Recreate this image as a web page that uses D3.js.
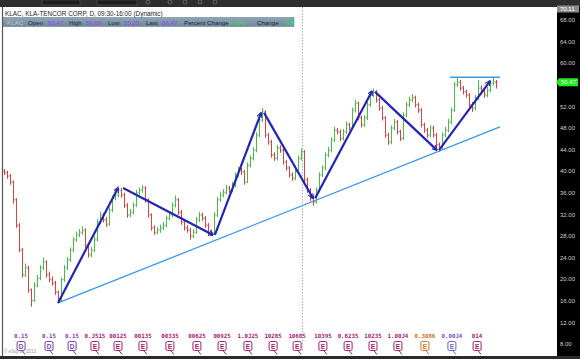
<!DOCTYPE html>
<html><head><meta charset="utf-8">
<script src="https://cdn.jsdelivr.net/npm/d3@7"></script>
<style>html,body{margin:0;padding:0;background:#fff;overflow:hidden}svg{display:block}</style>
</head><body><svg id="c" width="580" height="359"></svg>
<script>
const closes = [39.7,39.1,38.0,34.7,30.0,25.4,20.8,22.1,18.0,16.1,
18.9,20.2,22.1,23.2,20.8,19.9,19.3,17.6,16.1,19.9,
22.1,23.6,25.4,27.3,28.2,28.7,29.1,26.3,24.5,25.4,
27.3,30.6,31.9,31.0,30.2,32.8,35.0,35.6,36.5,35.6,
33.7,31.9,32.4,33.7,36.0,36.5,36.9,34.7,31.9,29.5,
28.7,29.1,29.5,30.0,31.3,31.9,33.7,34.7,32.4,30.6,
29.5,29.1,28.0,28.7,31.0,31.9,31.3,30.0,28.7,28.6,
31.9,34.7,35.6,36.1,36.9,36.5,37.4,39.3,40.2,39.9,
38.0,41.1,42.4,43.9,46.7,49.5,51.0,46.7,45.4,43.0,
42.4,44.3,43.9,41.7,40.6,39.3,38.7,39.9,42.4,43.6,
38.4,36.5,35.0,34.3,36.5,39.3,40.6,43.0,43.9,45.8,
47.6,47.3,46.1,47.3,48.6,48.0,51.3,52.6,49.9,48.6,
49.9,52.3,54.1,54.7,53.2,51.7,49.9,46.7,45.4,48.0,
49.1,47.3,46.1,50.4,52.3,53.2,53.6,52.3,51.3,48.6,
47.6,46.7,48.0,46.7,44.9,44.3,46.7,47.6,49.1,51.3,
56.0,56.5,55.4,54.7,54.1,52.3,51.7,53.6,55.4,54.7,
54.1,55.0,56.3,56.5,56.47];
const highs = [40.4,40.1,39.5,38.3,35.0,30.4,25.8,22.9,22.5,18.3,
19.4,20.8,22.6,24.0,23.5,21.4,20.5,19.7,17.9,20.3,
22.6,24.1,25.9,27.8,28.8,29.3,29.8,29.4,26.7,26.0,
27.9,31.1,32.5,32.3,31.5,33.3,35.5,36.2,37.3,36.9,
36.0,34.1,33.0,34.2,36.5,37.0,37.4,37.2,35.0,32.2,
30.0,29.7,30.1,30.6,31.8,32.5,34.2,35.5,35.0,32.8,
31.0,30.0,29.5,29.2,31.5,32.5,32.3,31.7,30.4,29.2,
32.4,35.2,36.2,36.7,37.5,37.3,38.0,39.8,40.8,40.6,
40.2,41.6,42.9,44.4,47.2,50.0,51.7,51.3,47.1,45.8,
43.5,44.8,44.8,44.2,42.1,41.0,39.8,40.4,42.9,44.2,
43.9,38.8,36.9,35.5,37.0,39.8,41.1,43.5,44.5,46.3,
48.2,48.0,47.7,47.8,49.2,49.0,51.8,53.2,52.9,50.3,
50.4,52.8,54.6,55.3,55.0,53.6,52.1,50.2,47.1,48.5,
49.7,49.5,47.7,50.9,52.8,53.8,54.3,54.0,52.7,51.7,
49.0,48.0,48.5,48.4,47.1,45.3,47.2,48.2,49.7,51.8,
56.5,57.4,56.9,55.8,55.1,54.5,52.8,54.1,56.9,55.9,
55.2,55.6,56.9,57.3,56.9];
const lows = [39.3,38.6,37.5,34.0,29.5,25.0,20.3,20.4,17.5,14.9,
15.8,18.5,19.8,21.7,20.3,19.4,18.8,17.1,15.6,15.9,
19.5,21.7,23.2,25.0,26.9,27.8,28.2,25.8,24.0,24.1,
25.0,27.0,30.2,30.5,29.7,29.9,32.4,34.6,35.2,35.1,
33.2,31.4,31.5,32.0,33.4,35.6,36.0,34.2,31.4,29.0,
28.2,28.3,28.6,29.1,29.6,30.9,31.5,33.3,31.9,30.1,
29.0,28.6,27.3,27.6,28.4,30.6,30.8,29.5,28.2,28.0,
28.3,31.5,34.3,35.2,35.7,36.0,36.1,37.0,38.9,39.3,
37.5,37.8,40.7,42.0,43.5,46.3,49.1,46.2,44.9,42.5,
41.9,42.0,43.4,41.2,40.1,38.8,38.2,38.3,39.5,42.0,
37.9,36.0,34.5,33.6,34.0,36.1,38.9,40.2,42.6,43.5,
45.4,46.8,45.6,45.7,46.9,47.5,47.7,50.9,49.4,48.1,
48.2,49.5,51.9,53.7,52.7,51.2,49.4,46.2,44.9,45.0,
47.6,46.8,45.6,45.8,50.0,51.9,52.8,51.8,50.8,48.1,
47.1,46.2,46.3,46.2,44.4,43.7,44.0,46.3,47.2,48.7,
51.0,55.6,54.9,54.2,53.6,51.8,51.0,51.3,53.2,54.2,
53.6,53.7,54.6,55.9,55.3];
const firstOpen = 40.0;
const yTicks = [68,64,60,52,48,44,40,36,32,28,24,20,16,12,8];
const topPrice = 70.11;
const lastPrice = 56.47;
// zigzag pattern segments: [index1, price1, index2, price2]
const zigzag = [[18,15.6,38,36.9],[39.7,36.9,69.7,28.2],[70.3,28.2,85.7,50.8],[86.7,50.8,103,35.0],
[103.7,35.0,122.7,54.85],[123.7,54.7,144.3,43.9],[145,43.9,162,56.7]];
const trendLines = [[18,15.6,165.3,48.2],[148.7,57.4,165.3,57.4]];
const eventIdx = [5.7,15,22.7,30.3,38,46.3,55.3,64.3,72.7,81.3,89.7,97.7,106.3,114.7,123,131.3,140.3,149.3,157.7];
const eventType = ["D","D","D","E","E","E","E","E","E","E","E","E","E","E","E","E","E","E","E"];
const eventLabels = ["0.15","0.15","0.15","0.J515","00125","00135","00335","00625","00925","1.0J25","10285","10685","10395","0.6235","10235","1.00J4","0.3086","0.00J4","014"];
const infoItems = [["KLAC","#b9c9d6"],["Open","#1b2633"],["55.47","#9a3cff"],["High","#1b2633"],["56.60","#9a3cff"],["Low","#1b2633"],["55.25","#9a3cff"],["Last","#1b2633"],["56.47","#9a3cff"],["Percent Change","#1b2633"],["0.00%","#3ee03e"],["Change","#1b2633"],["0","#3ee03e"]];
const infoX = [7,28,48,69,86,108,124,146,162,184,229,257,286];

const svg = d3.select("#c");
const W=580,H=359;
const plotL=3, plotR=557, plotT=7, plotB=356;
const x = d3.scaleLinear().domain([0,184.33]).range([4,557]);
const y = d3.scaleLinear().domain([70.41,5.78]).range([plotT,plotB]);
const font = "'Liberation Sans', Arial, sans-serif";

svg.append("rect").attr("width",W).attr("height",H).attr("fill","#fff");
const defs = svg.append("defs");
// top toolbar
svg.append("rect").attr("x",0).attr("y",0).attr("width",W).attr("height",7).attr("fill","#2e2e2e");
[[42,38],[97,40]].forEach(b=>svg.append("rect").attr("x",b[0]).attr("y",0).attr("width",b[1]).attr("height",5).attr("fill","#1e1e1e").attr("stroke","#555").attr("stroke-width",0.6));
[148,170,185,200,215].forEach(cx=>svg.append("circle").attr("cx",cx).attr("cy",2).attr("r",2).attr("fill","none").attr("stroke","#888").attr("stroke-width",0.6));
// bottom bar
svg.append("rect").attr("x",0).attr("y",356).attr("width",W).attr("height",3).attr("fill","#2a2a2a");
// left border
svg.append("line").attr("x1",2.5).attr("x2",2.5).attr("y1",plotT).attr("y2",plotB).attr("stroke","#555").attr("stroke-width",1.2);
// dotted vertical
svg.append("line").attr("x1",302.5).attr("x2",302.5).attr("y1",plotT).attr("y2",352).attr("stroke","#999").attr("stroke-width",0.8).attr("stroke-dasharray","1.5,1.5");

// title
svg.append("text").attr("x",5).attr("y",15.5).attr("font-family",font).attr("font-size",6.4).attr("fill","#222").text("KLAC, KLA-TENCOR CORP, D, 09:30-16:00 (Dynamic)");
// info bar
const grad = defs.append("linearGradient").attr("id","ib").attr("x1",0).attr("x2",0).attr("y1",0).attr("y2",1);
grad.append("stop").attr("offset","0").attr("stop-color","#8fa6b6");
grad.append("stop").attr("offset","1").attr("stop-color","#6e879a");
svg.append("rect").attr("x",3).attr("y",17.5).attr("width",291).attr("height",9).attr("fill","url(#ib)").attr("stroke","#5d7385").attr("stroke-width",0.5);
infoItems.forEach((d,i)=>svg.append("text").attr("x",infoX[i]).attr("y",24.6).attr("font-family",font).attr("font-size",6.2).attr("fill",d[1]).text(d[0]));
svg.append("rect").attr("x",290).attr("y",18.5).attr("width",4).attr("height",7).attr("fill","#4fb8a0");

// trend lines
svg.selectAll(".tl").data(trendLines).enter().append("line")
  .attr("x1",d=>x(d[0])).attr("y1",d=>y(d[1])).attr("x2",d=>x(d[2])).attr("y2",d=>y(d[3]))
  .attr("stroke","#3a98ea").attr("stroke-width",1.3);

// bars
const bars = closes.map((c,i)=>({i:i,o:i===0?firstOpen:closes[i-1],h:highs[i],l:lows[i],c:c}));
const g = svg.append("g");
bars.forEach(b=>{
  const col = b.c>=b.o ? "#4cb84c" : "#cc4848";
  const xx = Math.round(x(b.i))+0.5;
  g.append("line").attr("x1",xx).attr("x2",xx).attr("y1",y(b.h)).attr("y2",y(b.l)).attr("stroke",col).attr("stroke-width",1);
  g.append("line").attr("x1",xx-1.3).attr("x2",xx).attr("y1",y(b.o)).attr("y2",y(b.o)).attr("stroke",col).attr("stroke-width",0.9);
  g.append("line").attr("x1",xx).attr("x2",xx+1.3).attr("y1",y(b.c)).attr("y2",y(b.c)).attr("stroke",col).attr("stroke-width",0.9);
});

// zigzag with arrowheads
defs.append("marker").attr("id","ah").attr("viewBox","0 0 10 10").attr("refX",9).attr("refY",5)
  .attr("markerWidth",5.5).attr("markerHeight",5.5).attr("markerUnits","userSpaceOnUse").attr("orient","auto")
  .append("path").attr("d","M0,0 L10,5 L0,10").attr("fill","none").attr("stroke","#2424b4").attr("stroke-width",2);
svg.selectAll(".zz").data(zigzag).enter().append("line")
  .attr("x1",d=>x(d[0])).attr("y1",d=>y(d[1])).attr("x2",d=>x(d[2])).attr("y2",d=>y(d[3]))
  .attr("stroke","#2424b4").attr("stroke-width",2.2).attr("marker-end","url(#ah)");

// right axis
svg.append("rect").attr("x",557).attr("y",7).attr("width",23).attr("height",349).attr("fill","#000");
yTicks.forEach(t=>{
  svg.append("text").attr("x",560).attr("y",y(t)+2.2).attr("font-family",font).attr("font-size",6).attr("fill","#cfcfcf").text(t.toFixed(2));
});
svg.append("rect").attr("x",557).attr("y",5.5).attr("width",22).attr("height",7).attr("fill","#8c8c8c");
svg.append("text").attr("x",560).attr("y",y(topPrice)+2.2).attr("font-family",font).attr("font-size",6).attr("fill","#fff").text(topPrice.toFixed(2));
const ly = y(lastPrice);
svg.append("path").attr("d",`M556,${ly} L559,${ly-4} L578,${ly-4} L578,${ly+4} L559,${ly+4} Z`).attr("fill","#28e428");
svg.append("text").attr("x",561).attr("y",ly+2.2).attr("font-family",font).attr("font-size",6).attr("fill","#d8ffd0").text(lastPrice.toFixed(2));

// events
const evColors = eventIdx.map((d,i)=> eventType[i]==="D" ? "#7b3fa8" : (i===16 ? "#d0742a" : (i===17 ? "#6a62c0" : "#a4236e")));
const labColors = eventIdx.map((d,i)=> eventType[i]==="D" ? "#8a3ab0" : (i===16 ? "#d07020" : (i===17 ? "#8050c0" : "#a0207a")));
eventIdx.forEach((e,i)=>{
  const cx = x(e);
  svg.append("text").attr("x",cx).attr("y",337.5).attr("text-anchor","middle").attr("font-family","'DejaVu Sans Mono', monospace").attr("font-weight","bold").attr("font-size",5.8).attr("fill",labColors[i]).text(eventLabels[i]);
  const gg = svg.append("g");
  gg.append("rect").attr("x",cx-4).attr("y",341.5).attr("width",8).attr("height",9).attr("rx",1.5).attr("fill","#fff").attr("stroke",evColors[i]).attr("stroke-width",1);
  gg.append("path").attr("d",`M${cx+1},${350.5} L${cx+4},${354.5}`).attr("stroke",evColors[i]).attr("stroke-width",1);
  gg.append("text").attr("x",cx).attr("y",348.8).attr("text-anchor","middle").attr("font-family",font).attr("font-weight","bold").attr("font-size",6.5).attr("fill",evColors[i]).text(eventType[i]);
});
svg.append("text").attr("x",4).attr("y",353).attr("font-family",font).attr("font-size",4.5).attr("fill","#999").text("© eSignal, 2013");
</script></body></html>
